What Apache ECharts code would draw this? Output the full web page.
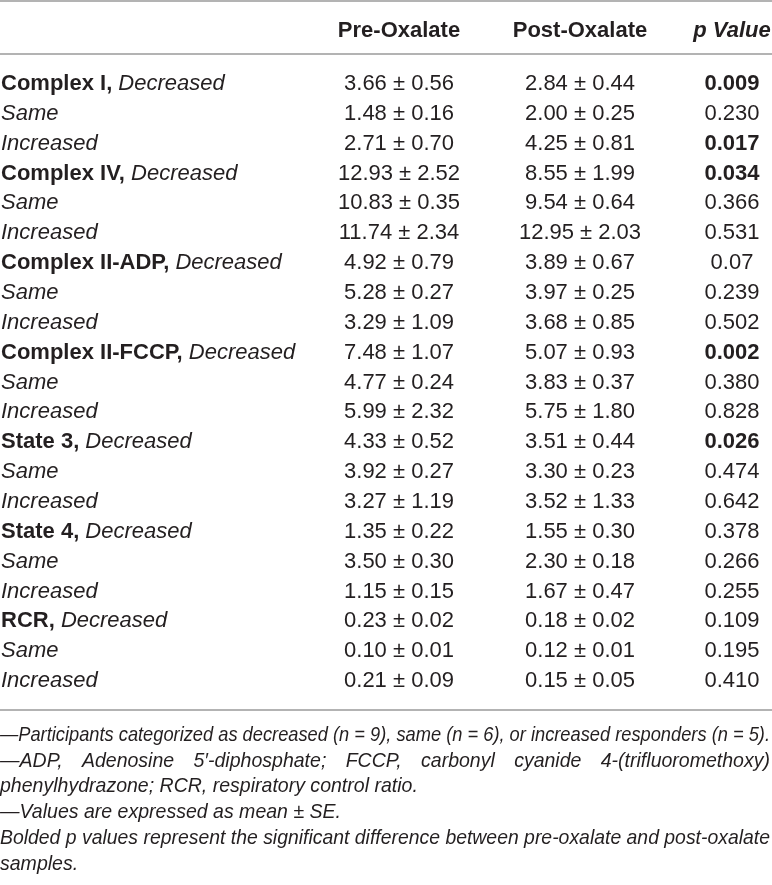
<!DOCTYPE html>
<html lang="en">
<head>
<meta charset="utf-8" />
<title>Mitochondrial respiration by responder group</title>
<script src="https://cdn.jsdelivr.net/npm/echarts@6/dist/echarts.min.js"></script>
<style>
  html, body { margin: 0; padding: 0; background: #fff; }
  #chart { width: 772px; height: 885px; }
</style>
</head>
<body>
<div id="chart"></div>
<script>
// table data
var measures = ['Complex I', 'Complex IV', 'Complex II-ADP', 'Complex II-FCCP', 'State 3', 'State 4', 'RCR'];
var responders = ['Decreased', 'Same', 'Increased'];
var headers = ['Pre-Oxalate', 'Post-Oxalate', 'p Value'];

var preMean = [3.66, 1.48, 2.71, 12.93, 10.83, 11.74, 4.92, 5.28, 3.29, 7.48, 4.77, 5.99, 4.33, 3.92, 3.27, 1.35, 3.50, 1.15, 0.23, 0.10, 0.21];
var preSE = [0.56, 0.16, 0.70, 2.52, 0.35, 2.34, 0.79, 0.27, 1.09, 1.07, 0.24, 2.32, 0.52, 0.27, 1.19, 0.22, 0.30, 0.15, 0.02, 0.01, 0.09];
var postMean = [2.84, 2.00, 4.25, 8.55, 9.54, 12.95, 3.89, 3.97, 3.68, 5.07, 3.83, 5.75, 3.51, 3.30, 3.52, 1.55, 2.30, 1.67, 0.18, 0.12, 0.15];
var postSE = [0.44, 0.25, 0.81, 1.99, 0.64, 2.03, 0.67, 0.25, 0.85, 0.93, 0.37, 1.80, 0.44, 0.23, 1.33, 0.30, 0.18, 0.47, 0.02, 0.01, 0.05];
var pValues = ['0.009', '0.230', '0.017', '0.034', '0.366', '0.531', '0.07', '0.239', '0.502', '0.002', '0.380', '0.828', '0.026', '0.474', '0.642', '0.378', '0.266', '0.255', '0.109', '0.195', '0.410'];

var footnotes = [
  '\u2014Participants categorized as decreased (n = 9), same (n = 6), or increased responders (n = 5).',
  '\u2014ADP, Adenosine 5\u2032-diphosphate; FCCP, carbonyl cyanide 4-(trifluoromethoxy)',
  'phenylhydrazone; RCR, respiratory control ratio.',
  '\u2014Values are expressed as mean \u00b1 SE.',
  'Bolded p values represent the significant difference between pre-oxalate and post-oxalate',
  'samples.'
];

// layout
var W = 772;
var FONT = '"Liberation Sans", Arial, sans-serif';
var INK = '#231f20';
var RULE = '#9a9a9a';
var COL_X = { label: 1, pre: 399, post: 580, p: 732 };
var HEADER_Y = 31;
var RULES_Y = [1, 54, 710];
var FOOT_TOP = 735;
var FOOT_LH = 25.8;
var FOOT_SIZE = 21;
var FOOT_REF_WIDTH = 341;   // width of the "Values are expressed..." line
var JUSTIFIED = [0, 1, 4];

var rowKeys = [];
measures.forEach(function (m) {
  responders.forEach(function (r) { rowKeys.push(m + ' ' + r); });
});

function fmt(m, s) {
  return m.toFixed(2) + ' \u00b1 ' + s.toFixed(2);
}

function renderRow(params, api) {
  var i = api.value(1);
  var y = api.coord([0, i])[1];
  var mi = Math.floor(i / 3), ri = i % 3;
  var label = ri === 0
    ? '{b|' + measures[mi] + ',} {i|' + responders[ri] + '}'
    : '{i|' + responders[ri] + '}';
  var bold = parseFloat(pValues[i]) < 0.05;
  function cell(x, text, align, weight) {
    return {
      type: 'text',
      style: {
        x: api.coord([x, i])[0], y: y, text: text, fill: INK,
        fontFamily: FONT, fontSize: 22, fontWeight: weight || 'normal',
        align: align, verticalAlign: 'middle'
      }
    };
  }
  var lab = cell(COL_X.label, label, 'left');
  lab.style.rich = {
    b: { fontFamily: FONT, fontSize: 22, fontWeight: 'bold', fill: INK },
    i: { fontFamily: FONT, fontSize: 22, fontStyle: 'italic', fill: INK }
  };
  return {
    type: 'group',
    children: [
      lab,
      cell(COL_X.pre, fmt(preMean[i], preSE[i]), 'center'),
      cell(COL_X.post, fmt(postMean[i], postSE[i]), 'center'),
      cell(COL_X.p, pValues[i], 'center', bold ? 'bold' : 'normal')
    ]
  };
}

// footnotes: narrow italic, some lines justified to the full width
var ctx = document.createElement('canvas').getContext('2d');
ctx.font = 'italic ' + FOOT_SIZE + 'px ' + FONT;
function tw(t) { return ctx.measureText(t).width; }
var squeeze = FOOT_REF_WIDTH / tw(footnotes[3]);
var avail = W - 2;

var graphics = [];
RULES_Y.forEach(function (y) {
  graphics.push({ type: 'line', shape: { x1: 0, y1: y, x2: W, y2: y }, style: { stroke: RULE, lineWidth: 1.5 } });
});
var headX = [COL_X.pre, COL_X.post, COL_X.p];
headers.forEach(function (h, k) {
  graphics.push({
    type: 'text', x: headX[k], y: HEADER_Y,
    style: {
      text: h, fill: INK, fontFamily: FONT, fontSize: 22, fontWeight: 'bold',
      fontStyle: k === 2 ? 'italic' : 'normal', align: 'center', verticalAlign: 'middle'
    }
  });
});
footnotes.forEach(function (line, n) {
  var y = FOOT_TOP + n * FOOT_LH;
  var sx = squeeze;
  var words = [line];
  var positions = [0];
  if (JUSTIFIED.indexOf(n) >= 0) {
    var natural = tw(line) * squeeze;
    if (natural >= avail) {
      // too long: tighten the whole line to the measure
      sx = squeeze * avail / natural;
    } else {
      words = line.split(' ');
      var sum = 0;
      words.forEach(function (w) { sum += tw(w) * sx; });
      var gap = (avail - sum) / (words.length - 1);
      var x = 0;
      positions = [];
      words.forEach(function (w) { positions.push(x); x += tw(w) * sx + gap; });
    }
  }
  words.forEach(function (w, k) {
    graphics.push({
      type: 'text', x: positions[k], y: y, scaleX: sx,
      style: {
        text: w, fill: INK, fontFamily: FONT, fontSize: FOOT_SIZE, fontStyle: 'italic',
        align: 'left', verticalAlign: 'middle'
      }
    });
  });
});

var chart = echarts.init(document.getElementById('chart'), null, { renderer: 'canvas' });
chart.setOption({
  animation: false,
  backgroundColor: '#ffffff',
  grid: { left: 0, right: 0, top: 69, height: 627 },
  xAxis: { type: 'value', min: 0, max: W, show: false },
  yAxis: { type: 'category', data: rowKeys, inverse: true, show: false },
  series: [{
    type: 'custom',
    clip: false,
    renderItem: renderRow,
    data: rowKeys.map(function (k, i) { return [0, i]; })
  }],
  graphic: graphics
});
</script>
</body>
</html>
